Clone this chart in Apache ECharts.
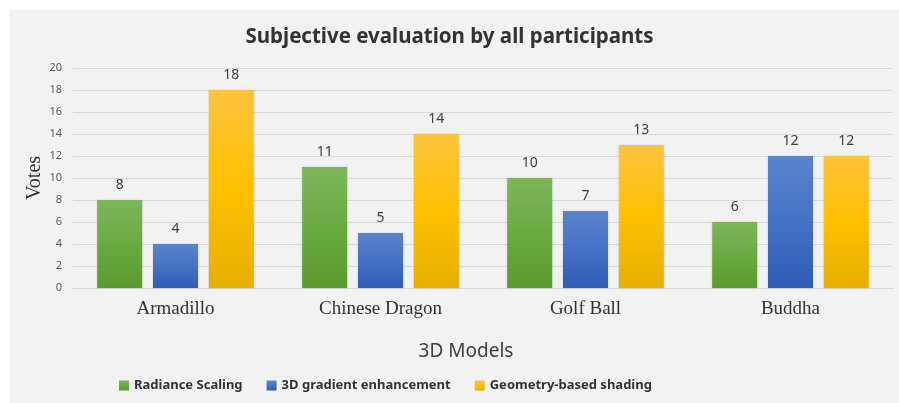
<!DOCTYPE html>
<html>
<head>
<meta charset="utf-8">
<script src="https://cdn.jsdelivr.net/npm/echarts@6/dist/echarts.min.js"></script>
<style>
html,body{margin:0;padding:0;background:#ffffff;}
#chart{width:899px;height:403px;}
</style>
</head>
<body>
<div id="chart"></div>
<script>
const categories = ['Armadillo', 'Chinese Dragon', 'Golf Ball', 'Buddha'];
const radianceScaling = [8, 11, 10, 6];
const gradientEnhancement = [4, 5, 7, 12];
const geometryShading = [18, 14, 13, 12];
const seriesNames = ['Radiance Scaling', '3D gradient enhancement', 'Geometry-based shading'];
const yAxisTitle = 'Votes';

function grad(top, mid, bottom) {
  return new echarts.graphic.LinearGradient(0, 0, 0, 1, [
    {offset: 0, color: top}, {offset: 0.5, color: mid}, {offset: 1, color: bottom}
  ]);
}
const labelStyle = {show: true, position: 'top', distance: 8, fontFamily: 'Noto Sans', fontSize: 14, color: '#404040'};

const chart = echarts.init(document.getElementById('chart'), null, {renderer: 'canvas'});
chart.setOption({
  backgroundColor: '#ffffff',
  animation: false,
  graphic: [
    {type: 'rect', z: -100, shape: {x: 10, y: 10, width: 889, height: 393}, style: {fill: '#f2f2f2'}},
    {type: 'text', x: 35, y: 178, rotation: Math.PI / 2, z: 10,
     style: {text: yAxisTitle, fontFamily: 'Liberation Serif', fontSize: 20, fill: '#333333', align: 'center', verticalAlign: 'middle'}}
  ],
  title: {
    text: 'Subjective evaluation by all participants',
    left: 'center', top: 22,
    textStyle: {fontFamily: 'Noto Sans', fontWeight: 'bold', fontSize: 20.5, color: '#333333'}
  },
  legend: {
    bottom: 6, left: 114, itemWidth: 10, itemHeight: 10, itemGap: 24,
    icon: 'rect',
    textStyle: {fontFamily: 'Noto Sans', fontWeight: 'bold', fontSize: 13, color: '#333333'},
    data: seriesNames
  },
  grid: {left: 73, right: 6, top: 68, bottom: 115},
  xAxis: {
    type: 'category', data: categories,
    name: '3D Models', nameLocation: 'middle', nameGap: 54,
    nameTextStyle: {fontFamily: 'Noto Sans', fontSize: 19, color: '#404040', padding: [0, 34, 0, 0]},
    axisLine: {lineStyle: {color: '#d9d9d9'}},
    axisTick: {show: false},
    axisLabel: {fontFamily: 'Liberation Serif', fontSize: 19, color: '#333333', margin: 12}
  },
  yAxis: {
    type: 'value', min: 0, max: 20, interval: 2,
    axisLine: {show: false}, axisTick: {show: false},
    axisLabel: {fontFamily: 'Noto Sans', fontSize: 11, color: '#595959', margin: 11},
    splitLine: {lineStyle: {color: '#d9d9d9'}}
  },
  series: [
    {name: seriesNames[0], type: 'bar', data: radianceScaling, barWidth: 45, barGap: '24%',
     itemStyle: {color: grad('#7cb65c', '#6aab40', '#5a9a2e'), shadowColor: 'rgba(0,0,0,0.15)', shadowBlur: 2},
     label: labelStyle},
    {name: seriesNames[1], type: 'bar', data: gradientEnhancement, barWidth: 45, barGap: '24%',
     itemStyle: {color: grad('#5b83cc', '#4472c4', '#2f5cb5'), shadowColor: 'rgba(0,0,0,0.15)', shadowBlur: 2},
     label: labelStyle},
    {name: seriesNames[2], type: 'bar', data: geometryShading, barWidth: 45, barGap: '24%',
     itemStyle: {color: grad('#fcc43c', '#ffc000', '#e6b000'), shadowColor: 'rgba(0,0,0,0.15)', shadowBlur: 2},
     label: labelStyle}
  ]
});
</script>
</body>
</html>
